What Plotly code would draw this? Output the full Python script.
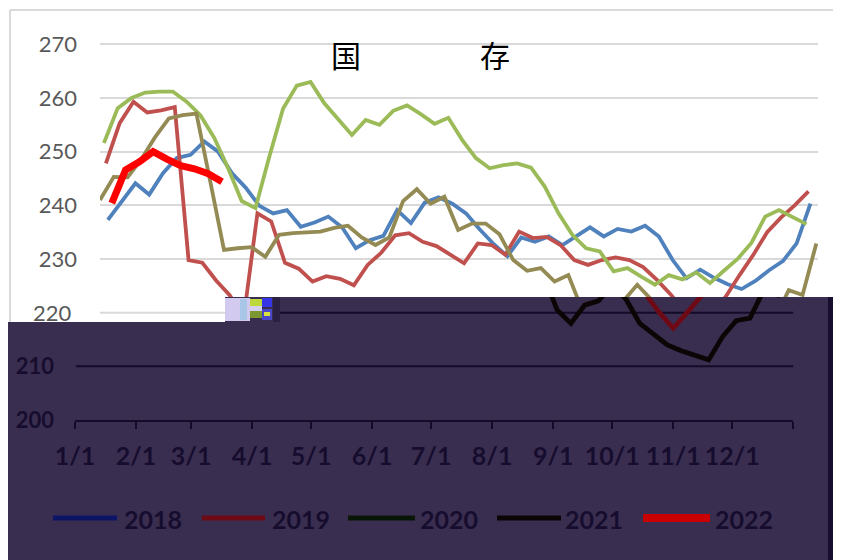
import pandas as pd
import plotly.graph_objects as go

W, H = 841, 560
OFF = 8  # page body margin of the html page

# ---------------- data ----------------
years = ["2018", "2019", "2020", "2021", "2022"]
first_friday = {"2018": "2018-01-05", "2019": "2019-01-04", "2020": "2020-01-03",
                "2021": "2021-01-01", "2022": "2022-01-07"}

v2018 = [237.3, 240.8, 244.1, 242.0, 246.0, 248.8, 249.4, 251.9, 250.0, 246.0,
         243.3, 239.9, 238.5, 239.1, 236.0, 236.8, 237.9, 235.9, 232.0, 233.5,
         234.3, 239.1, 236.7, 240.5, 241.5, 240.3, 238.5, 235.5, 232.8, 230.5,
         234.0, 233.2, 234.2, 232.6, 234.2, 235.9, 234.2, 235.6, 235.1, 236.2,
         234.2, 229.8, 226.4, 228.0, 226.5, 225.3, 224.4, 225.9, 227.9, 229.6,
         232.9, 240.3]
v2019 = [247.8, 255.3, 259.3, 257.3, 257.7, 258.3, 229.8, 229.3, 226.0, 223.2,
         219.0, 238.5, 237.0, 229.3, 228.2, 225.8, 226.8, 226.3, 225.1, 228.9,
         231.2, 234.4, 234.8, 233.2, 232.4, 230.8, 229.2, 232.9, 232.6, 230.8,
         235.1, 233.9, 234.1, 232.6, 229.8, 228.9, 229.8, 230.3, 229.8, 228.5,
         226.1, 223.4, 220.0, 217.1, 220.0, 223.0, 227.0, 230.8, 235.0, 237.7,
         240.0, 242.6]
v2020 = [251.6, 258.1, 260.0, 261.0, 261.2, 261.2, 259.3, 256.8, 252.6, 247.0,
         240.8, 239.5, 249.0, 258.0, 262.3, 263.0, 259.0, 256.0, 253.1, 255.9,
         255.0, 257.6, 258.6, 257.0, 255.2, 256.3, 252.2, 248.8, 246.9, 247.5,
         247.8, 247.0, 243.5, 238.5, 234.5, 232.0, 231.4, 227.7, 228.3, 226.7,
         225.2, 227.0, 226.2, 227.5, 225.5, 227.8, 230.0, 233.0, 237.9, 239.1,
         237.8, 236.5]
v2021 = [241.0, 245.3, 245.2, 248.6, 252.7, 256.2, 256.8, 257.1, 244.5, 231.7,
         232.0, 232.2, 230.4, 234.5, 234.8, 234.9, 235.1, 235.8, 236.2, 234.0,
         232.6, 234.0, 240.8, 243.0, 240.3, 241.6, 235.4, 236.6, 236.6, 234.6,
         229.8, 227.8, 228.3, 225.8, 227.0, 220.5, 218.0, 221.4, 222.2, 225.2,
         222.5, 218.0, 216.0, 214.0, 212.9, 212.1, 211.2, 215.5, 218.5, 219.0,
         224.2, 223.3, 232.9]
v2022 = [240.4, 246.6, 248.1, 250.0, 248.6, 247.4, 246.8, 245.9, 244.4]

series = {"2018": v2018, "2019": v2019, "2020": v2020, "2021": v2021, "2022": v2022}

month_labels = ["1/1", "2/1", "3/1", "4/1", "5/1", "6/1", "7/1", "8/1",
                "9/1", "10/1", "11/1", "12/1"]
y_ticks_upper = [230, 240, 250, 260, 270]
y_ticks_lower = [200, 210]

# ---------------- styles ----------------
colors = {"2018": "#4F81BD", "2019": "#C0504D", "2020": "#9BBB59",
          "2021": "#948A54", "2022": "#FF0000"}
dark_colors = {"2018": "#0c1466", "2019": "#6e0a16", "2020": "#081608",
               "2021": "#0c0505", "2022": "#c80000"}
widths = {"2018": 3.8, "2019": 3.8, "2020": 3.8, "2021": 3.8, "2022": 7}
PURPLE = "#3a2e50"
DARK = "#130b28"
DARK_TXT = "#160d2e"

BASE = pd.Timestamp("2021-01-01")


def common_year(dates):
    return [BASE + (d - pd.Timestamp(year=d.year, month=1, day=1)) for d in dates]


# screen-pixel geometry helpers (screen = figure + OFF)
def fx(px):
    return (px - OFF) / W


def fy(py):
    return (H - (py - OFF)) / H


PX_PER_UNIT = (420 - 44.3) / 70.0


def val_at(py):
    return 270 - (py - 44.3) / PX_PER_UNIT


def py_of(v):
    return 44.3 + (270 - v) * PX_PER_UNIT


SPLIT = 297
x_range = ["2021-01-01", "2022-01-01"]

fig = go.Figure()
for yr in years:
    dates = pd.date_range(first_friday[yr], periods=len(series[yr]), freq="7D")
    xs = common_year(dates)
    fig.add_trace(go.Scatter(x=xs, y=series[yr], mode="lines", name=yr,
                             line=dict(color=colors[yr], width=widths[yr]),
                             xaxis="x", yaxis="y", hoverinfo="skip"))
for yr in years:
    dates = pd.date_range(first_friday[yr], periods=len(series[yr]), freq="7D")
    xs = common_year(dates)
    fig.add_trace(go.Scatter(x=xs, y=series[yr], mode="lines", name=yr,
                             line=dict(color=dark_colors[yr], width=widths[yr] + 1),
                             xaxis="x2", yaxis="y2", hoverinfo="skip",
                             showlegend=False))

tickvals_x = [f"2021-{m:02d}-01" for m in range(1, 13)] + ["2022-01-01"]
ticktext_x = month_labels + [""]

fig.update_layout(
    width=W, height=H, margin=dict(l=0, r=0, t=0, b=0, autoexpand=False),
    paper_bgcolor="white", plot_bgcolor="rgba(0,0,0,0)", showlegend=False,
    xaxis=dict(domain=[fx(100), fx(818.3)], range=x_range, type="date", anchor="y",
               showgrid=False, showticklabels=False, zeroline=False, showline=False,
               ticks="", automargin=False),
    yaxis=dict(domain=[fy(SPLIT), fy(20)], range=[val_at(SPLIT), val_at(20)], anchor="x",
               tickvals=y_ticks_upper, ticktext=[str(v) for v in y_ticks_upper],
               showgrid=True, gridcolor="#d9d9d9", gridwidth=2, zeroline=False,
               showline=False, ticks="", ticklabelstandoff=22, automargin=False,
               tickfont=dict(family="Lato", size=22, color="#595959")),
    xaxis2=dict(domain=[fx(75), fx(793.3)], range=x_range, type="date", anchor="y2",
                tickvals=tickvals_x, ticktext=ticktext_x, ticks="outside", ticklen=7,
                tickwidth=2, tickcolor=DARK, showline=True, linecolor=DARK, linewidth=2,
                showgrid=False, zeroline=False, ticklabelstandoff=6, tickangle=0,
                automargin=False,
                tickfont=dict(family="Lato", size=25, color=DARK_TXT, weight="bold")),
    yaxis2=dict(domain=[fy(420), fy(SPLIT)], range=[200, val_at(SPLIT)], anchor="x2",
                tickvals=y_ticks_lower, ticktext=[str(v) for v in y_ticks_lower],
                showgrid=False, zeroline=False, showline=False, ticks="",
                ticklabelstandoff=20, automargin=False,
                tickfont=dict(family="Lato", size=22, color=DARK_TXT, weight="bold")),
)

shapes = []
# dark overlay region (below traces)
shapes.append(dict(type="rect", xref="paper", yref="paper", layer="below",
                   x0=fx(8), x1=fx(828), y0=fy(570), y1=fy(322),
                   fillcolor=PURPLE, line=dict(width=0)))
shapes.append(dict(type="rect", xref="paper", yref="paper", layer="below",
                   x0=fx(225), x1=fx(828), y0=fy(322), y1=fy(SPLIT),
                   fillcolor=PURPLE, line=dict(width=0)))
shapes.append(dict(type="rect", xref="paper", yref="paper", layer="below",
                   x0=fx(828), x1=fx(850), y0=fy(570), y1=fy(SPLIT),
                   fillcolor="#170d2c", line=dict(width=0)))
# dark gridlines
shapes.append(dict(type="line", xref="paper", yref="y2", layer="below",
                   x0=fx(76), x1=fx(793.3), y0=210, y1=210,
                   line=dict(color=DARK, width=2)))
shapes.append(dict(type="line", xref="paper", yref="y2", layer="below",
                   x0=fx(277), x1=fx(793.3), y0=220, y1=220,
                   line=dict(color=DARK, width=2)))
# white patch on the left of the split + its gridline
shapes.append(dict(type="rect", xref="paper", yref="paper", layer="above",
                   x0=fx(8), x1=fx(225), y0=fy(322), y1=fy(SPLIT),
                   fillcolor="white", line=dict(width=0)))
shapes.append(dict(type="line", xref="paper", yref="paper", layer="above",
                   x0=fx(100), x1=fx(225), y0=fy(py_of(220)), y1=fy(py_of(220)),
                   line=dict(color="#d9d9d9", width=2)))
# glitch blocks
glitch = [
    (225, 250, 298, 321, "#d2cbef"),
    (240, 247, 299, 320, "#a9c6e6"),
    (250, 262, 299, 306, "#bcd83a"),
    (250, 262, 306, 311, "#d6d0f0"),
    (250, 262, 311, 318, "#7c9632"),
    (262, 272, 298, 307, "#3636e6"),
    (262, 272, 309, 320, "#4a48c8"),
    (264, 270, 312, 316, "#d8e040"),
    (273, 280, 297, 322, "#2a2142"),
]
for x0, x1, y0, y1, c in glitch:
    shapes.append(dict(type="rect", xref="paper", yref="paper", layer="above",
                       x0=fx(x0), x1=fx(x1), y0=fy(y1), y1=fy(y0),
                       fillcolor=c, line=dict(width=0)))
# chart border (light)
shapes.append(dict(type="line", xref="paper", yref="paper", layer="above",
                   x0=fx(10), x1=fx(850), y0=fy(10), y1=fy(10),
                   line=dict(color="#d9d9d9", width=2)))
shapes.append(dict(type="line", xref="paper", yref="paper", layer="above",
                   x0=fx(10), x1=fx(10), y0=fy(10), y1=fy(322),
                   line=dict(color="#d9d9d9", width=2)))

# legend samples (manual)
legend_pos = {"2018": (53, 117, 122), "2019": (202, 265, 270), "2020": (348, 415, 418),
              "2021": (497, 561, 563), "2022": (643, 710, 713)}
annotations = []
LEG_Y = 518
for yr in years:
    x0, x1, tx = legend_pos[yr]
    shapes.append(dict(type="line", xref="paper", yref="paper", layer="above",
                       x0=fx(x0), x1=fx(x1), y0=fy(LEG_Y), y1=fy(LEG_Y),
                       line=dict(color=dark_colors[yr], width=8 if yr == "2022" else 5)))
    annotations.append(dict(x=fx(tx), y=fy(LEG_Y + 1), xref="paper", yref="paper",
                            text=yr, showarrow=False, xanchor="left", yanchor="middle",
                            font=dict(family="Lato", size=25, color=DARK_TXT, weight="bold")))

# "220" label in the white strip
annotations.append(dict(x=fx(74), y=fy(py_of(220)), xref="paper", yref="paper", text="220",
                        showarrow=False, xanchor="right", yanchor="middle",
                        font=dict(family="Lato", size=22, color="#595959")))
# title characters
annotations.append(dict(x=fx(346), y=fy(54), xref="paper", yref="paper", text="国",
                        showarrow=False, xanchor="center", yanchor="middle",
                        font=dict(family="Noto Sans CJK SC", size=30, color="black")))
annotations.append(dict(x=fx(495), y=fy(54), xref="paper", yref="paper", text="存",
                        showarrow=False, xanchor="center", yanchor="middle",
                        font=dict(family="Noto Sans CJK SC", size=30, color="black")))

fig.update_layout(shapes=shapes, annotations=annotations)
fig.write_html("out.html")
